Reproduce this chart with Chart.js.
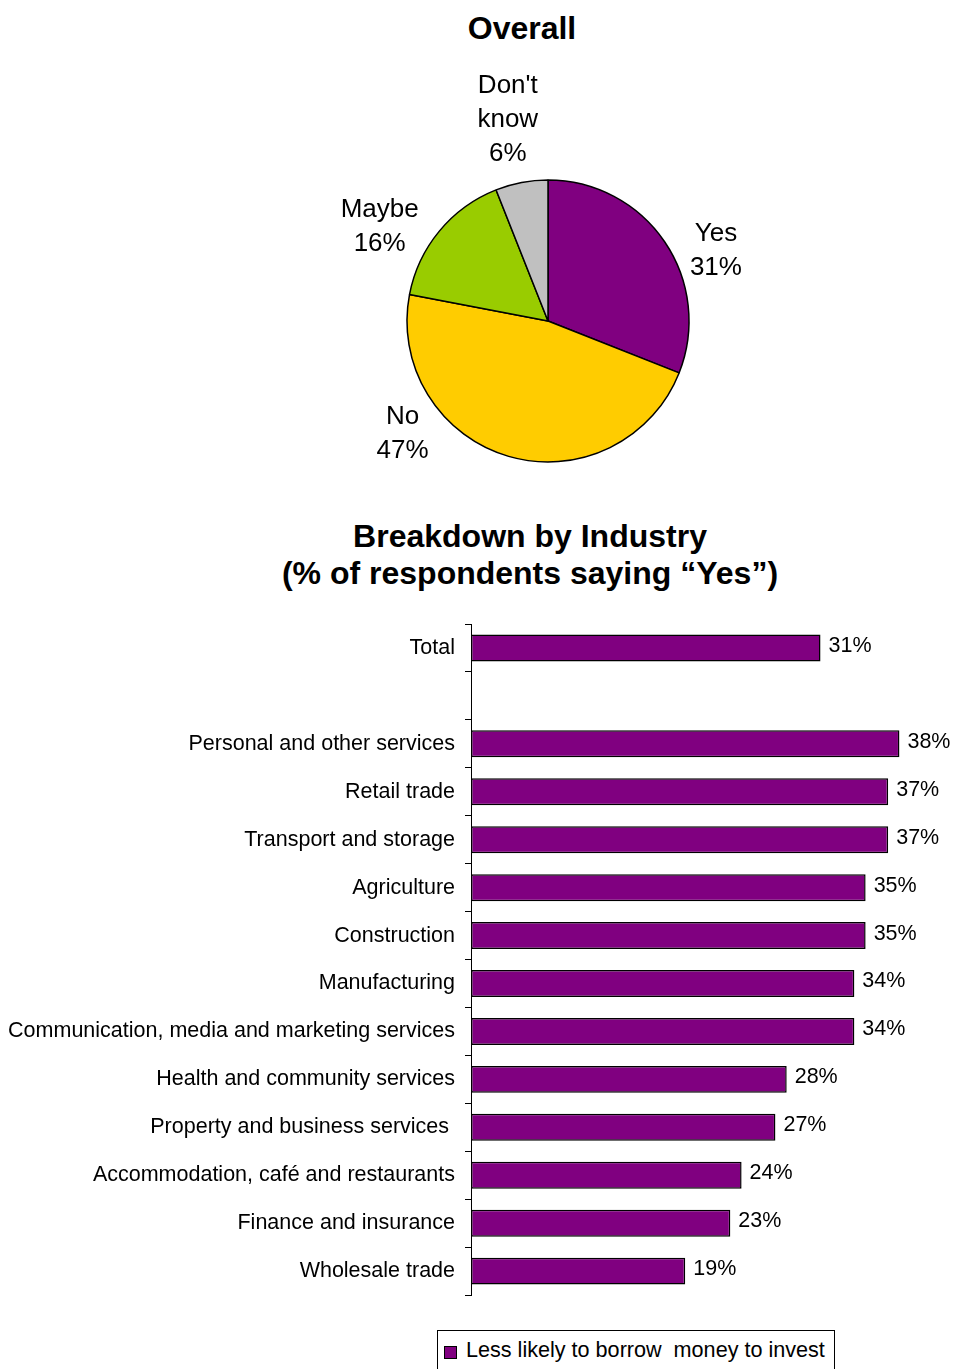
<!DOCTYPE html>
<html>
<head>
<meta charset="utf-8">
<script src="https://cdn.jsdelivr.net/npm/chart.js@4.4.0/dist/chart.umd.min.js"></script>
<style>
html,body{margin:0;padding:0;background:#fff;}
body{width:954px;height:1369px;position:relative;overflow:hidden;font-family:"Liberation Sans",Arial,Helvetica,sans-serif;color:#000;}
.title{position:absolute;font-weight:bold;font-size:32px;text-align:center;line-height:37px;white-space:nowrap;}
#pieTitle{left:322px;width:400px;top:10px;}
#barTitle{left:180px;width:700px;top:518px;}
canvas{position:absolute;left:0;}
#pie{top:0;}
#bar{top:600px;}
#legend{position:absolute;left:437px;top:1330px;width:398px;height:50px;border:1px solid #000;box-sizing:border-box;font-size:21.6px;background:#fff;}
#legend .sw{position:absolute;left:6px;top:15px;width:11px;height:11px;border:1px solid #000;background:#800080;}
#legend .tx{position:absolute;left:28px;top:7px;line-height:24px;white-space:pre;}
</style>
</head>
<body>
<div class="title" id="pieTitle">Overall</div>
<div class="title" id="barTitle">Breakdown by Industry<br>(% of respondents saying “Yes”)</div>
<canvas id="pie" width="954" height="495"></canvas>
<canvas id="bar" width="954" height="718"></canvas>
<div id="legend"><span class="sw"></span><span class="tx">Less likely to borrow  money to invest</span></div>
<script>
// ---- Pie data ----
const pieLabels = ['Yes', 'No', 'Maybe', "Don't know"];
const pieValues = [31, 47, 16, 6];
const pieColors = ['#800080', '#FFCC00', '#99CC00', '#C0C0C0'];

// ---- Bar data ----
const industries = [
  'Total',
  '',
  'Personal and other services',
  'Retail trade',
  'Transport and storage',
  'Agriculture',
  'Construction',
  'Manufacturing',
  'Communication, media and marketing services',
  'Health and community services',
  'Property and business services ',
  'Accommodation, café and restaurants',
  'Finance and insurance',
  'Wholesale trade'
];
const yesShare = [31, null, 38, 37, 37, 35, 35, 34, 34, 28, 27, 24, 23, 19];
const seriesName = 'Less likely to borrow  money to invest';

const FONT = '"Liberation Sans", Arial, Helvetica, sans-serif';

// Outside labels for pie, positioned from each arc's geometry
const pieOutLabels = {
  id: 'pieOutLabels',
  afterDatasetsDraw(chart, args, opts) {
    const ctx = chart.ctx;
    const meta = chart.getDatasetMeta(0);
    const ds = chart.data.datasets[0];
    const lh = opts.lineHeight;
    ctx.save();
    ctx.font = opts.fontSize + 'px ' + FONT;
    ctx.fillStyle = '#000';
    ctx.textAlign = 'center';
    ctx.textBaseline = 'middle';
    meta.data.forEach((arc, i) => {
      const name = chart.data.labels[i];
      const words = name.split(' ');
      const lines = [];
      let cur = '';
      words.forEach(w => {
        const t = cur ? cur + ' ' + w : w;
        if (cur && ctx.measureText(t).width > opts.wrapWidth) { lines.push(cur); cur = w; }
        else cur = t;
      });
      if (cur) lines.push(cur);
      lines.push(ds.data[i] + '%');
      const w = Math.max(...lines.map(l => ctx.measureText(l).width));
      const h = lines.length * lh;
      const f = opts.anchor[i];
      const a = arc.startAngle + f * (arc.endAngle - arc.startAngle);
      const dx = Math.cos(a), dy = Math.sin(a);
      const r = arc.outerRadius + opts.gap;
      const px = arc.x + r * dx, py = arc.y + r * dy;
      const cx = px + dx * w / 2, cy = py + dy * h / 2;
      lines.forEach((l, k) => {
        ctx.fillText(l, cx, cy + (k - (lines.length - 1) / 2) * lh);
      });
    });
    ctx.restore();
  }
};

new Chart(document.getElementById('pie'), {
  type: 'pie',
  data: {
    labels: pieLabels,
    datasets: [{
      data: pieValues,
      backgroundColor: pieColors,
      borderColor: '#000',
      borderWidth: 1.5
    }]
  },
  options: {
    responsive: false,
    animation: false,
    devicePixelRatio: 1,
    events: [],
    radius: 141,
    layout: { padding: { left: 150, right: 8, top: 160, bottom: 13 } },
    plugins: {
      legend: { display: false },
      tooltip: { enabled: false },
      title: { display: false },
      pieOutLabels: { fontSize: 26, lineHeight: 34, gap: 14, wrapWidth: 90, anchor: [0.61, 0.72, 0.33, 0.42] }
    }
  },
  plugins: [pieOutLabels]
});

// Value labels for bars
const barValueLabels = {
  id: 'barValueLabels',
  afterDatasetsDraw(chart, args, opts) {
    const ctx = chart.ctx;
    const meta = chart.getDatasetMeta(0);
    const ds = chart.data.datasets[0];
    ctx.save();
    ctx.font = opts.fontSize + 'px ' + FONT;
    ctx.fillStyle = '#000';
    ctx.textAlign = 'left';
    ctx.textBaseline = 'middle';
    meta.data.forEach((bar, i) => {
      const v = ds.data[i];
      if (v === null || v === undefined) return;
      ctx.fillText(v + '%', bar.x + opts.offset, bar.y - 2);
    });
    ctx.restore();
  }
};

new Chart(document.getElementById('bar'), {
  type: 'bar',
  data: {
    labels: industries,
    datasets: [{
      label: seriesName,
      data: yesShare,
      backgroundColor: '#800080',
      borderColor: '#000',
      borderWidth: 1.5,
      borderSkipped: false,
      categoryPercentage: 1,
      barPercentage: 0.5625
    }]
  },
  options: {
    indexAxis: 'y',
    responsive: false,
    animation: false,
    devicePixelRatio: 1,
    events: [],
    layout: { padding: { left: 0, right: 32, top: 24, bottom: 4 } },
    scales: {
      x: { display: false, min: 0, max: 40 },
      y: {
        type: 'category',
        afterFit(scale) { scale.width = 471; },
        grid: { display: true, drawOnChartArea: false, drawTicks: true, tickLength: 6, color: '#000', lineWidth: 1, offset: true },
        border: { display: true, color: '#000', width: 1 },
        ticks: { color: '#000', font: { family: FONT, size: 21.5 }, padding: 10, autoSkip: false }
      }
    },
    plugins: {
      legend: { display: false },
      tooltip: { enabled: false },
      barValueLabels: { fontSize: 21.5, offset: 8 }
    }
  },
  plugins: [barValueLabels]
});
</script>
</body>
</html>
